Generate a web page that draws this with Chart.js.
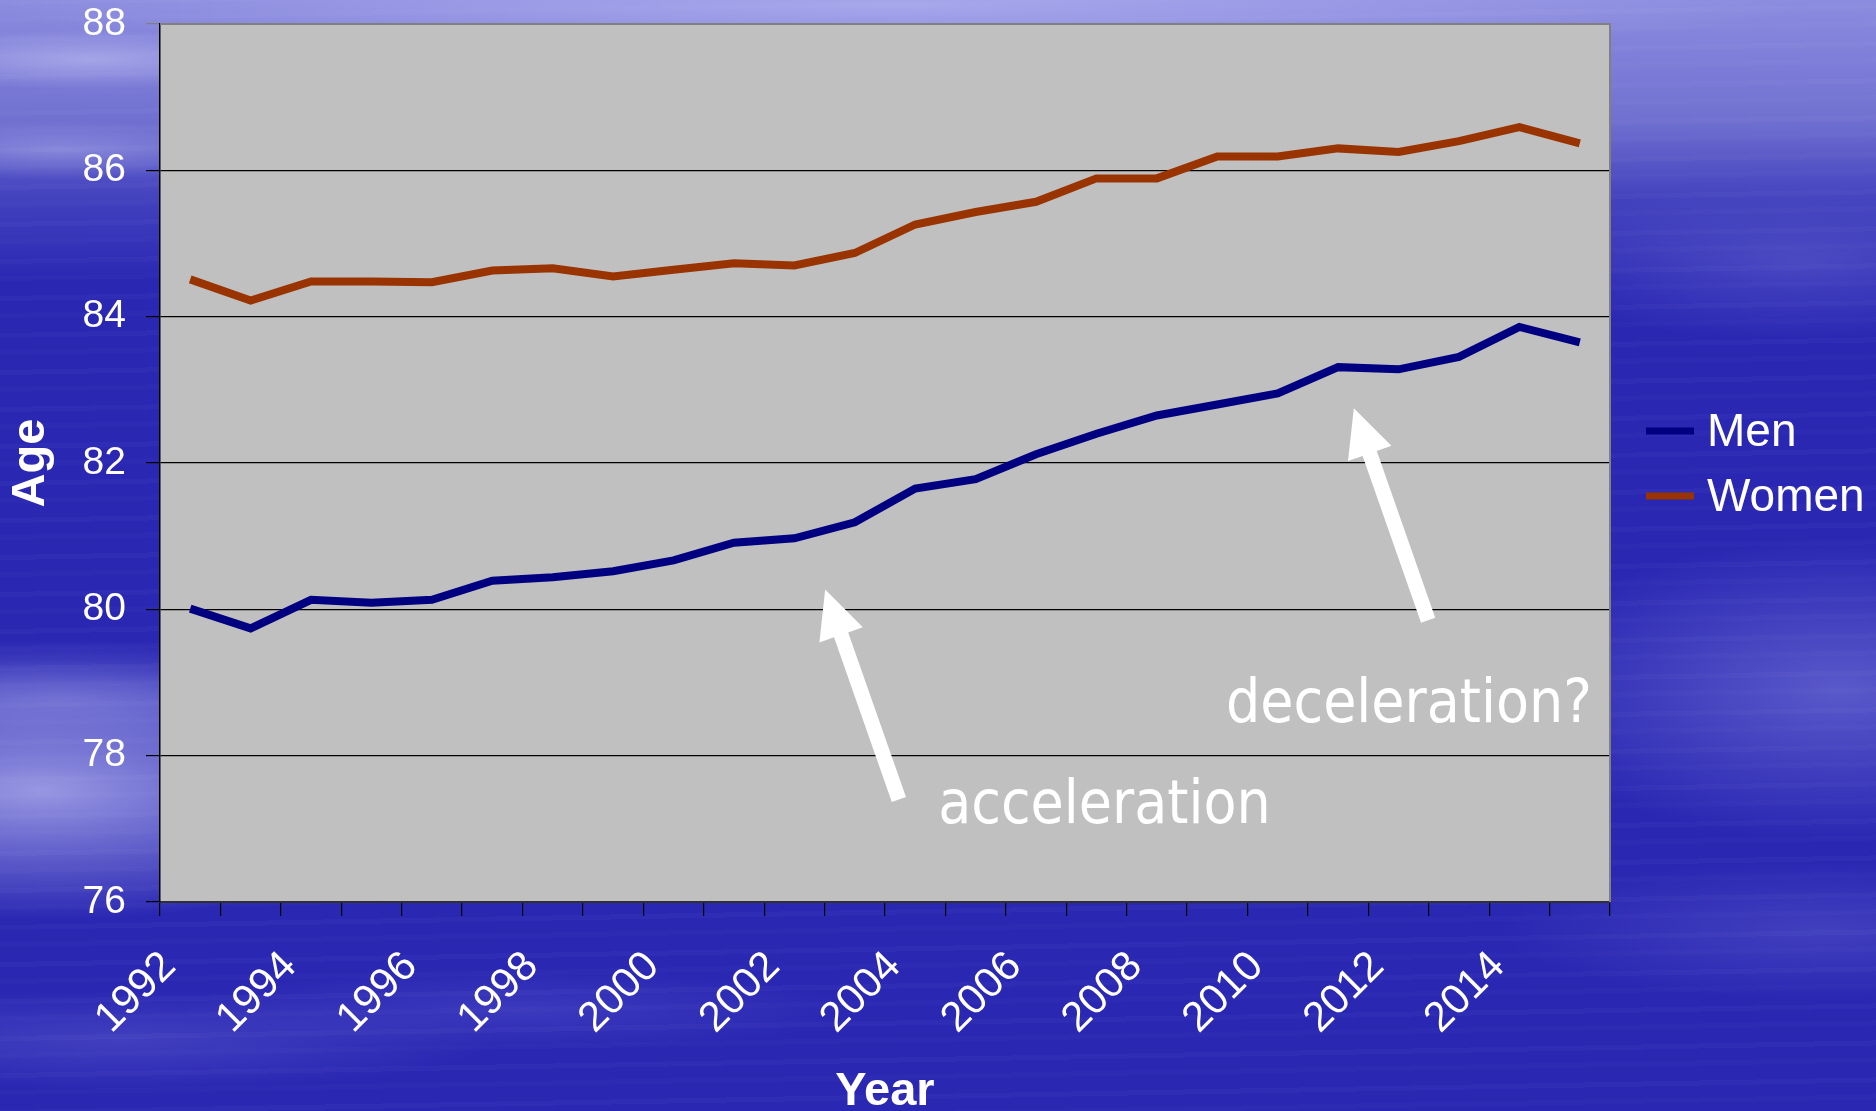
<!DOCTYPE html>
<html>
<head>
<meta charset="utf-8">
<script src="https://cdn.jsdelivr.net/npm/chart.js@4.4.1/dist/chart.umd.min.js"></script>
<style>
html, body { margin: 0; padding: 0; width: 1876px; height: 1111px; overflow: hidden; }
body {
  background:
    repeating-linear-gradient(179deg, rgba(255,255,255,0.025) 0 5px, rgba(255,255,255,0) 5px 17px, rgba(255,255,255,0.015) 17px 22px, rgba(255,255,255,0) 22px 37px),
    radial-gradient(ellipse 900px 50px at 900px 6px, rgba(200,200,250,0.45), rgba(200,200,250,0) 100%),
    radial-gradient(ellipse 220px 30px at 90px 60px, rgba(210,210,250,0.45), rgba(210,210,250,0) 100%),
    radial-gradient(ellipse 220px 30px at 60px 150px, rgba(210,210,250,0.35), rgba(210,210,250,0) 100%),
    linear-gradient(180deg, rgba(145,145,226,0.95) 0px, rgba(125,125,214,0.85) 120px, rgba(90,90,200,0.5) 200px, rgba(45,45,180,0) 280px),
    radial-gradient(ellipse 420px 130px at 40px 790px, rgba(170,170,234,0.85), rgba(170,170,234,0) 100%),
    radial-gradient(ellipse 380px 60px at 60px 700px, rgba(150,150,228,0.5), rgba(150,150,228,0) 100%),
    radial-gradient(ellipse 380px 50px at 120px 1040px, rgba(110,110,212,0.35), rgba(110,110,212,0) 100%),
    radial-gradient(ellipse 340px 150px at 1840px 690px, rgba(130,130,220,0.55), rgba(130,130,220,0) 100%),
    radial-gradient(ellipse 300px 80px at 1800px 260px, rgba(120,120,215,0.4), rgba(120,120,215,0) 100%),
    radial-gradient(ellipse 320px 70px at 1820px 930px, rgba(110,110,210,0.35), rgba(110,110,210,0) 100%),
    radial-gradient(ellipse 340px 40px at 520px 1010px, rgba(100,100,210,0.3), rgba(100,100,210,0) 100%),
    #2a27b3;
}
canvas { display: block; }
</style>
</head>
<body>
<canvas id="chart" width="1876" height="1111"></canvas>
<script>
// ---- data ----
const years = ['1992','1993','1994','1995','1996','1997','1998','1999','2000','2001','2002','2003',
               '2004','2005','2006','2007','2008','2009','2010','2011','2012','2013','2014','2015'];
const menValues = [80.01, 79.74, 80.13, 80.09, 80.13, 80.39, 80.44, 80.52, 80.67, 80.91, 80.97, 81.19,
                   81.65, 81.78, 82.12, 82.40, 82.65, 82.80, 82.95, 83.31, 83.28, 83.45, 83.86, 83.65];
const womenValues = [84.51, 84.22, 84.48, 84.48, 84.47, 84.63, 84.66, 84.55, 84.64, 84.73, 84.70, 84.87,
                     85.26, 85.43, 85.57, 85.89, 85.89, 86.19, 86.19, 86.30, 86.25, 86.40, 86.59, 86.37];
const seriesNames = ['Men', 'Women'];
const yTickValues = [76, 78, 80, 82, 84, 86, 88];
const xTitle = 'Year';
const yTitle = 'Age';
const noteTexts = ['acceleration', 'deceleration?'];

// annotation placement, in data units (category index, age)
const annotations = {
  arrows: [
    { from: [11.73, 77.40], to: [10.51, 80.27] },
    { from: [20.49, 79.85], to: [19.26, 82.75] }
  ],
  notes: [
    { at: [12.38, 77.08], align: 'left' },
    { at: [23.20, 78.46], align: 'right' }
  ]
};

const plotBackground = {
  id: 'plotBackground',
  beforeDraw(chart) {
    const { ctx, chartArea: a } = chart;
    ctx.save();
    ctx.fillStyle = '#c0c0c0';
    ctx.fillRect(a.left, a.top, a.right - a.left, a.bottom - a.top);
    ctx.restore();
  },
  afterDatasetsDraw(chart) {
    const { ctx, chartArea: a } = chart;
    ctx.save();
    ctx.strokeStyle = '#808080';
    ctx.lineWidth = 2;
    ctx.beginPath();
    ctx.moveTo(a.left, a.top);
    ctx.lineTo(a.right, a.top);
    ctx.lineTo(a.right, a.bottom);
    ctx.stroke();
    ctx.restore();
  }
};

const arrowNotes = {
  id: 'arrowNotes',
  afterDatasetsDraw(chart) {
    const { ctx, scales: { x, y } } = chart;
    ctx.save();
    ctx.fillStyle = '#ffffff';
    const shaft = 15, headW = 46, headL = 48;
    annotations.arrows.forEach(ar => {
      const tx = x.getPixelForValue(ar.from[0]), ty = y.getPixelForValue(ar.from[1]);
      const px = x.getPixelForValue(ar.to[0]), py = y.getPixelForValue(ar.to[1]);
      const dx = px - tx, dy = py - ty, len = Math.hypot(dx, dy);
      const ux = dx / len, uy = dy / len, nx = -uy, ny = ux;
      const bx = px - ux * headL, by = py - uy * headL;
      ctx.beginPath();
      ctx.moveTo(tx + nx * shaft / 2, ty + ny * shaft / 2);
      ctx.lineTo(bx + nx * shaft / 2, by + ny * shaft / 2);
      ctx.lineTo(bx + nx * headW / 2, by + ny * headW / 2);
      ctx.lineTo(px, py);
      ctx.lineTo(bx - nx * headW / 2, by - ny * headW / 2);
      ctx.lineTo(bx - nx * shaft / 2, by - ny * shaft / 2);
      ctx.lineTo(tx - nx * shaft / 2, ty - ny * shaft / 2);
      ctx.closePath();
      ctx.fill();
    });
    ctx.font = '60px "DejaVu Sans Condensed", "DejaVu Sans", sans-serif';
    ctx.textBaseline = 'alphabetic';
    annotations.notes.forEach((n, i) => {
      ctx.textAlign = n.align;
      ctx.fillText(noteTexts[i], x.getPixelForValue(n.at[0]), y.getPixelForValue(n.at[1]));
    });
    ctx.restore();
  }
};

const sideLegend = {
  id: 'sideLegend',
  afterDraw(chart) {
    const { ctx } = chart;
    const rows = [431, 496];
    ctx.save();
    ctx.font = '46px "Liberation Sans", Arial, sans-serif';
    ctx.textBaseline = 'middle';
    ctx.textAlign = 'left';
    chart.data.datasets.forEach((ds, i) => {
      const yy = rows[i];
      ctx.strokeStyle = ds.borderColor;
      ctx.lineWidth = 7;
      ctx.beginPath();
      ctx.moveTo(1646, yy);
      ctx.lineTo(1694, yy);
      ctx.stroke();
      ctx.fillStyle = '#ffffff';
      ctx.fillText(ds.label, 1707, yy + 2);
    });
    ctx.restore();
  }
};

new Chart(document.getElementById('chart'), {
  type: 'line',
  data: {
    labels: years,
    datasets: [
      { label: seriesNames[0], data: menValues, borderColor: '#000080', backgroundColor: '#000080',
        borderWidth: 8, pointRadius: 0, tension: 0, borderJoinStyle: 'miter', borderCapStyle: 'butt' },
      { label: seriesNames[1], data: womenValues, borderColor: '#993300', backgroundColor: '#993300',
        borderWidth: 8, pointRadius: 0, tension: 0, borderJoinStyle: 'miter', borderCapStyle: 'butt' }
    ]
  },
  options: {
    responsive: false,
    animation: false,
    devicePixelRatio: 1,
    layout: { padding: { left: 0, top: 24, right: 266, bottom: 0 } },
    plugins: { legend: { display: false }, tooltip: { enabled: false } },
    scales: {
      x: {
        offset: true,
        afterFit(scale) { scale.height = 209; scale.paddingTop = 0; scale.paddingBottom = 0; },
        grid: { offset: true, drawOnChartArea: false, drawTicks: true, tickLength: 14, color: '#000000', lineWidth: 1.2 },
        border: { display: true, color: '#303030', width: 2 },
        ticks: {
          autoSkip: false, minRotation: 45, maxRotation: 45, padding: 26, labelOffset: -21,
          color: '#ffffff', font: { family: '"Liberation Sans", Arial, sans-serif', size: 42 },
          callback(value, index) { return index % 2 === 0 ? this.getLabelForValue(value) : ''; }
        },
        title: { display: true, text: xTitle, color: '#ffffff',
                 font: { family: '"Liberation Sans", Arial, sans-serif', size: 47, weight: 'bold', lineHeight: 0.8 },
                 padding: { top: 0, bottom: 0 } }
      },
      y: {
        min: yTickValues[0], max: yTickValues[yTickValues.length - 1],
        afterFit(scale) { scale.width = 160; scale.paddingTop = 0; scale.paddingBottom = 0; },
        afterBuildTicks(scale) { scale.ticks = yTickValues.map(v => ({ value: v })); },
        grid: {
          drawTicks: true, tickLength: 14,
          color: c => (c.tick && c.tick.value === yTickValues[yTickValues.length - 1]) ? '#808080' : '#000000',
          lineWidth: 1.2
        },
        border: { display: true, color: '#000000', width: 1.5 },
        ticks: { padding: 20, color: '#ffffff', font: { family: '"Liberation Sans", Arial, sans-serif', size: 39 } },
        title: { display: true, text: yTitle, color: '#ffffff',
                 font: { family: '"Liberation Sans", Arial, sans-serif', size: 47, weight: 'bold', lineHeight: 1.0 },
                 padding: { top: 8, bottom: 0 } }
      }
    }
  },
  plugins: [plotBackground, arrowNotes, sideLegend]
});
</script>
</body>
</html>
